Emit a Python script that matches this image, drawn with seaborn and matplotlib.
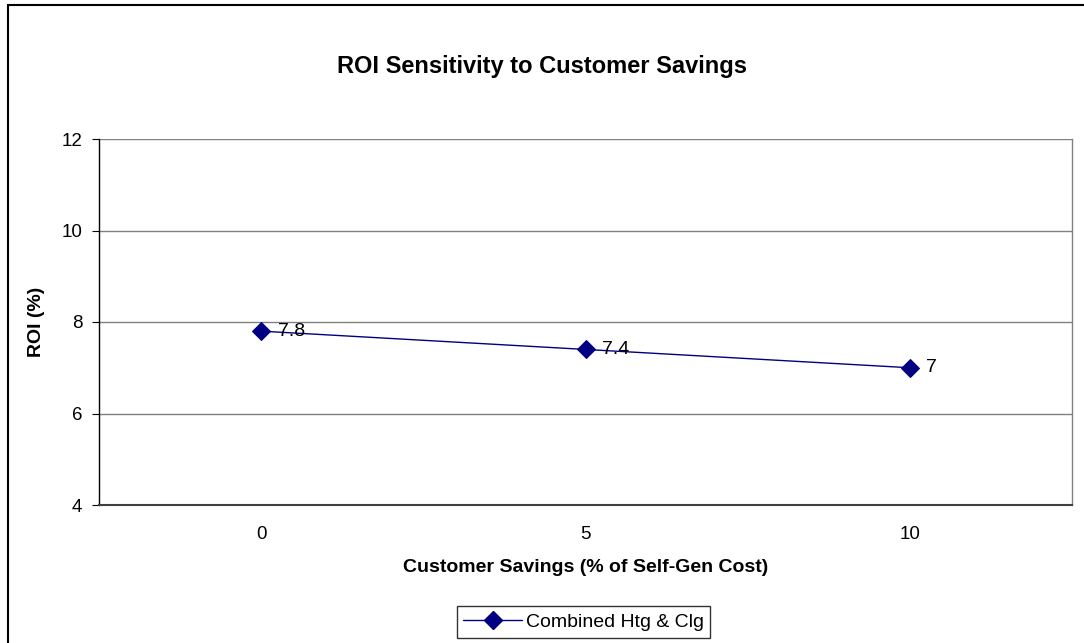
import matplotlib
matplotlib.use("Agg")
import matplotlib.pyplot as plt
from matplotlib.patches import Rectangle
from matplotlib.lines import Line2D
from matplotlib.ticker import FixedLocator
import seaborn as sns
import pandas as pd

# Data
savings = ["0", "5", "10"]
roi = [7.8, 7.4, 7.0]
series_name = "Combined Htg & Clg"
y_ticks = [4, 6, 8, 10, 12]

sns.set_theme(style="white")
plt.rcParams["font.family"] = ["Liberation Sans", "DejaVu Sans"]
plt.rcParams["text.color"] = "black"
plt.rcParams["axes.labelcolor"] = "black"
plt.rcParams["xtick.color"] = "black"
plt.rcParams["ytick.color"] = "black"

W, H = 1084, 643
fig = plt.figure(figsize=(W / 100, H / 100), dpi=100)

# outer chart frame (runs off the right and bottom edges)
fig.patches.append(Rectangle((8 / W, 0 - 0.02), 1.1, 1 - 5 / H + 0.02,
                             transform=fig.transFigure, fill=False,
                             edgecolor="black", linewidth=1.5, zorder=0))

left, right, top, bottom = 99, 1072, 139, 505
ax = fig.add_axes([left / W, 1 - bottom / H, (right - left) / W, (bottom - top) / H])

df = pd.DataFrame({"savings": savings, "roi": roi})
sns.pointplot(data=df, x="savings", y="roi", ax=ax, color="#000080",
              markers="D", linestyles="-", errorbar=None,
              linewidth=1.0, markersize=9, label=series_name)

for i, v in enumerate(roi):
    ax.annotate(f"{v:g}", (i, v), xytext=(12, 0), textcoords="offset points",
                ha="left", va="center", fontsize=14, color="black")

ax.set_xlim(-0.5, len(savings) - 0.5)
ax.set_ylim(4, 12)
ax.set_yticks(y_ticks)
ax.set_yticklabels([str(t) for t in y_ticks], fontsize=13.5)
ax.grid(axis="y", color="#808080", linewidth=1.0)
ax.grid(axis="x", visible=False)

ax.tick_params(axis="x", which="major", length=0, labelsize=13.5, pad=15)
ax.xaxis.set_minor_locator(FixedLocator([i - 0.5 for i in range(len(savings) + 1)]))
ax.tick_params(axis="x", which="minor", length=6, width=0.8, color="black", direction="out")
ax.tick_params(axis="y", which="major", length=5, width=0.8, color="black",
               direction="out", left=True, labelsize=13.5, pad=7)

ax.spines["top"].set_visible(False)
ax.spines["right"].set_color("#808080")
ax.spines["right"].set_linewidth(1.0)
ax.spines["left"].set_color("black")
ax.spines["left"].set_linewidth(1.0)
ax.spines["bottom"].set_color("#404040")
ax.spines["bottom"].set_linewidth(1.5)

ax.set_xlabel("Customer Savings (% of Self-Gen Cost)", fontsize=14,
              fontweight="bold", labelpad=12)
ax.set_ylabel("ROI (%)", fontsize=14, fontweight="bold", labelpad=12)

fig.text(0.5, 1 - 67 / H, "ROI Sensitivity to Customer Savings",
         ha="center", va="center", fontsize=17, fontweight="bold")

if ax.get_legend() is not None:
    ax.get_legend().remove()
handle = Line2D([], [], color="#000080", marker="D", linewidth=1.0, markersize=9)
leg = fig.legend([handle], [series_name], loc="center",
                 bbox_to_anchor=(583.5 / W, 1 - 622 / H), frameon=True,
                 fancybox=False, edgecolor="black", fontsize=14,
                 handlelength=3.0, borderpad=0.35, handletextpad=0.2,
                 borderaxespad=0)
leg.get_frame().set_linewidth(1.0)

fig.savefig("out.png", dpi=100)
